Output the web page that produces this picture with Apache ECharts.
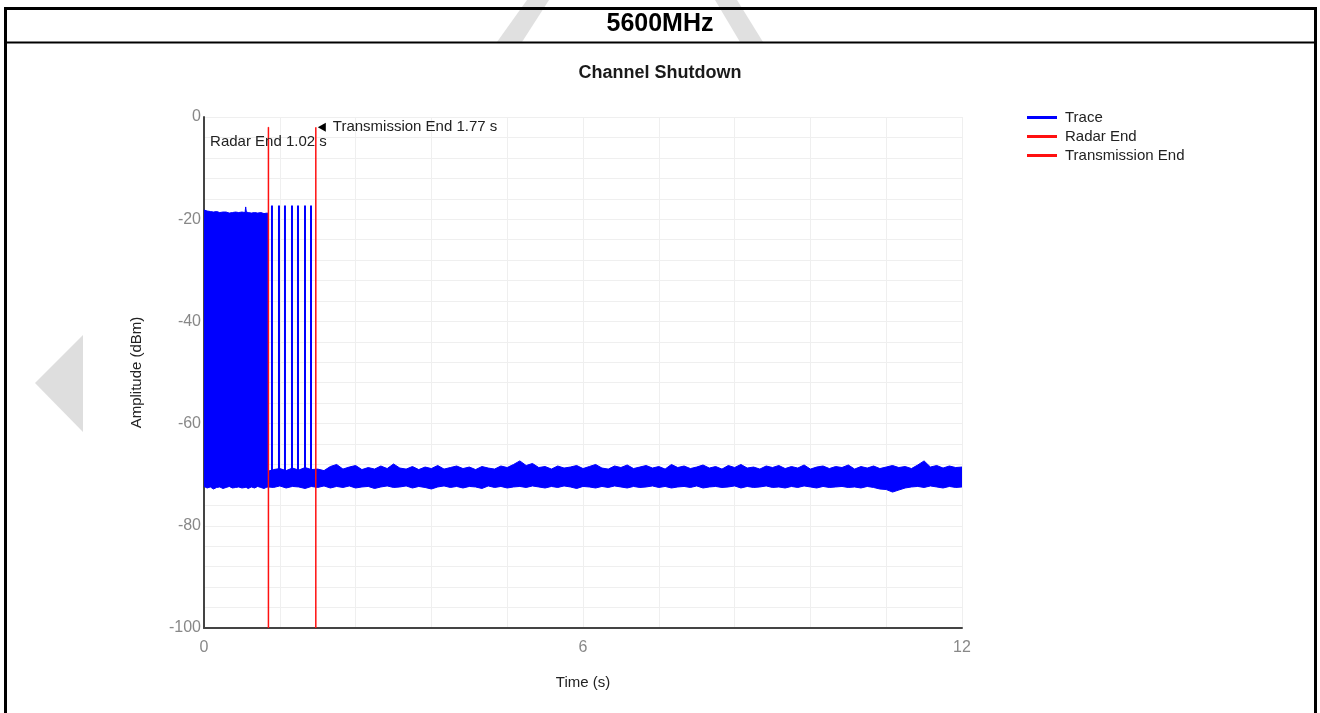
<!DOCTYPE html>
<html>
<head>
<meta charset="utf-8">
<script src="https://cdn.jsdelivr.net/npm/echarts@6/dist/echarts.min.js"></script>
<style>
html,body{margin:0;padding:0;background:#fff;}
#chart{width:1320px;height:713px;}
</style>
</head>
<body>
<div id="chart"></div>
<script>
// ---- data ----
const pageTitle = '5600MHz';
const chartTitle = 'Channel Shutdown';
const xTicks = [0, 6, 12];
const yTicks = [0, -20, -40, -60, -80, -100];

// envelope of the dense trace (time in s, amplitude in dBm)
const bandT = [
  0, 0.05, 0.1, 0.15, 0.2, 0.25, 0.3, 0.35, 0.4, 0.45, 0.5, 0.55, 0.6, 0.65, 0.66, 0.67, 0.7, 0.75, 0.8, 0.85, 0.9, 0.95, 1.0, 1.02,
  1.021,
  1.1, 1.2, 1.3, 1.4, 1.5, 1.6, 1.7, 1.8, 1.9, 2.0,
  2.1, 2.2, 2.3, 2.4, 2.5, 2.6, 2.7, 2.8, 2.9, 3.0,
  3.1, 3.2, 3.3, 3.4, 3.5, 3.6, 3.7, 3.8, 3.9, 4.0,
  4.1, 4.2, 4.3, 4.4, 4.5, 4.6, 4.7, 4.8, 4.9, 5.0,
  5.1, 5.2, 5.3, 5.4, 5.5, 5.6, 5.7, 5.8, 5.9, 6.0,
  6.1, 6.2, 6.3, 6.4, 6.5, 6.6, 6.7, 6.8, 6.9, 7.0,
  7.1, 7.2, 7.3, 7.4, 7.5, 7.6, 7.7, 7.8, 7.9, 8.0,
  8.1, 8.2, 8.3, 8.4, 8.5, 8.6, 8.7, 8.8, 8.9, 9.0,
  9.1, 9.2, 9.3, 9.4, 9.5, 9.6, 9.7, 9.8, 9.9, 10.0,
  10.1, 10.2, 10.3, 10.4, 10.5, 10.6, 10.7, 10.8, 10.9, 11.0,
  11.1, 11.2, 11.3, 11.4, 11.5, 11.6, 11.7, 11.8, 11.9, 12.0
];
const bandUpper = [
  -18.2, -18.4, -18.5, -18.6, -18.5, -18.7, -18.6, -18.6, -18.8, -18.7, -18.6, -18.7, -18.6, -18.7, -17.6, -18.6, -18.7, -18.8, -18.7, -18.8, -18.7, -18.9, -18.8, -18.9,
  -69.3,
  -69.0, -68.8, -69.2, -68.7, -69.1, -68.6, -69.0, -68.9, -69.2, -68.4,
  -68.0, -68.9, -68.5, -68.2, -69.0, -68.6, -68.9, -68.3, -68.8, -67.9,
  -68.7, -68.9, -68.4, -69.0, -68.5, -68.8, -68.2, -68.9, -68.6, -68.3,
  -68.8, -68.5, -69.0, -68.4, -68.7, -68.9, -68.3, -68.6, -68.0, -67.3,
  -68.2, -67.8, -68.6, -68.4, -68.9, -68.3, -68.7, -68.5, -68.2, -68.8,
  -68.4, -68.0, -68.7, -68.9, -68.3, -68.6, -68.1, -68.8, -68.5, -68.2,
  -68.7, -68.4, -68.9, -68.0, -68.6, -68.3, -68.8, -68.5, -68.1, -68.7,
  -68.4, -68.9, -68.2, -68.6, -68.0, -68.7, -68.5, -68.9, -68.3, -68.6,
  -68.2, -68.8, -68.4, -68.7, -68.1, -68.9, -68.5, -68.3, -68.8, -68.4,
  -68.6, -68.1, -68.9, -68.4, -68.7, -68.3, -68.8, -68.5, -68.2, -68.6,
  -68.4, -68.8, -68.1, -67.3, -68.5, -68.2, -68.7, -68.3, -68.6, -68.5
];
const bandLower = [
  -72.3, -72.6, -72.4, -72.8, -72.5, -72.4, -72.7, -72.5, -72.3, -72.6, -72.5, -72.4, -72.6, -72.5, -72.5, -72.5, -72.7, -72.4, -72.6, -72.3, -72.5, -72.7, -72.4, -72.5,
  -72.4,
  -72.5, -72.2, -72.6, -72.3, -72.4, -72.7, -72.3, -72.5, -72.2, -72.6,
  -72.3, -72.5, -72.2, -72.6, -72.4, -72.3, -72.7, -72.4, -72.2, -72.5,
  -72.4, -72.2, -72.6, -72.3, -72.5, -72.8, -72.4, -72.2, -72.5, -72.3,
  -72.6, -72.3, -72.4, -72.7, -72.2, -72.5, -72.3, -72.6, -72.4, -72.3,
  -72.5, -72.2, -72.4, -72.6, -72.3, -72.5, -72.2, -72.4, -72.7, -72.3,
  -72.4, -72.6, -72.3, -72.5, -72.2, -72.4, -72.6, -72.3, -72.5, -72.4,
  -72.2, -72.5, -72.3, -72.6, -72.4, -72.3, -72.5, -72.2, -72.6, -72.4,
  -72.3, -72.5, -72.4, -72.2, -72.6, -72.3, -72.5, -72.4, -72.2, -72.5,
  -72.4, -72.6, -72.3, -72.5, -72.2, -72.4, -72.6, -72.3, -72.5, -72.4,
  -72.3, -72.5, -72.4, -72.6, -72.3, -72.5, -72.8, -72.9, -73.4, -73.0,
  -72.6, -72.4, -72.3, -72.5, -72.2, -72.4, -72.6, -72.3, -72.5, -72.4
];

// burst pulses between Radar End and Transmission End
const pulseT = [1.076, 1.187, 1.282, 1.393, 1.488, 1.599, 1.694];
const pulseTop = [-17.3, -17.3, -17.3, -17.3, -17.3, -17.3, -17.3];
const pulseBase = -70;

// markers
const radarEndT = 1.02;
const transEndT = 1.77;
const markerTop = -2;
const markerBottom = -100;

// ---- build series ----
const bandData = bandT.map((t, i) => [t, bandUpper[i], bandLower[i]]);
const pulseData = [];
pulseT.forEach((t, i) => {
  pulseData.push([t, pulseBase]);
  pulseData.push([t, pulseTop[i]]);
  pulseData.push([t, '-']);
});

const FONT = '"Liberation Sans", Arial, sans-serif';
const BLUE = '#0000ff';
const RED = '#ff1010';

// band polygon: upper envelope left->right then lower envelope right->left,
// every vertex mapped through the chart's own axes with api.coord
function renderBand(params, api) {
  if (params.dataIndex !== 0) return null;
  const pts = [];
  for (let i = 0; i < bandT.length; i++) pts.push(api.coord([bandT[i], bandUpper[i]]));
  for (let i = bandT.length - 1; i >= 0; i--) pts.push(api.coord([bandT[i], bandLower[i]]));
  return {
    type: 'polygon',
    shape: {points: pts},
    style: {fill: BLUE, stroke: BLUE, lineWidth: 1}
  };
}

const chart = echarts.init(document.getElementById('chart'), null, {renderer: 'canvas'});
chart.setOption({
  animation: false,
  backgroundColor: '#ffffff',
  title: [
    {text: pageTitle, left: 'center', top: 12, padding: 0, z: 10,
     textStyle: {fontFamily: FONT, fontSize: 25, fontWeight: 'bold', color: '#000'}},
    {text: chartTitle, left: 'center', top: 64, padding: 0, z: 10,
     textStyle: {fontFamily: FONT, fontSize: 18, fontWeight: 'bold', color: '#1a1a1a'}}
  ],
  graphic: [
    // light grey watermark fragments
    {type: 'polygon', z: 0, silent: true, shape: {points: [[527, 0], [549, 0], [522, 42], [497, 42]]}, style: {fill: '#e0e0e0'}},
    {type: 'polygon', z: 0, silent: true, shape: {points: [[715, 0], [737, 0], [763, 42], [740, 42]]}, style: {fill: '#e0e0e0'}},
    {type: 'polygon', z: 0, silent: true, shape: {points: [[35, 383], [83, 335], [83, 432]]}, style: {fill: '#dedede'}},
    // frame
    {type: 'rect', z: 20, silent: true, shape: {x: 5.5, y: 8.5, width: 1310, height: 740}, style: {fill: null, stroke: '#000', lineWidth: 3}},
    {type: 'line', z: 20, silent: true, shape: {x1: 5, y1: 42.5, x2: 1316, y2: 42.5}, style: {stroke: '#000', lineWidth: 2}}
  ],
  legend: {
    orient: 'vertical',
    left: 1027,
    top: 110,
    itemWidth: 30,
    itemHeight: 3,
    itemGap: 4,
    icon: 'rect',
    selectedMode: false,
    padding: 0,
    textStyle: {fontFamily: FONT, fontSize: 15, color: '#222', padding: [0, 0, 0, 3]},
    data: [
      {name: 'Trace', itemStyle: {color: BLUE}},
      {name: 'Radar End', itemStyle: {color: RED}},
      {name: 'Transmission End', itemStyle: {color: RED}}
    ]
  },
  grid: {left: 204, right: 358, top: 117, bottom: 85, containLabel: false},
  xAxis: {
    type: 'value',
    min: xTicks[0],
    max: xTicks[xTicks.length - 1],
    interval: xTicks[1] - xTicks[0],
    name: 'Time (s)',
    nameLocation: 'middle',
    nameGap: 47,
    nameTextStyle: {fontFamily: FONT, fontSize: 15, color: '#222'},
    axisLine: {show: true, onZero: false, lineStyle: {color: '#444', width: 2}},
    axisTick: {show: false},
    minorTick: {show: false, splitNumber: 5},
    axisLabel: {fontFamily: FONT, fontSize: 16, color: '#888', margin: 12},
    splitLine: {show: true, lineStyle: {color: '#efefef', width: 1}},
    minorSplitLine: {show: true, lineStyle: {color: '#efefef', width: 1}}
  },
  yAxis: {
    type: 'value',
    min: yTicks[yTicks.length - 1],
    max: yTicks[0],
    interval: yTicks[0] - yTicks[1],
    name: 'Amplitude (dBm)',
    nameLocation: 'middle',
    nameGap: 60,
    nameTextStyle: {fontFamily: FONT, fontSize: 15, color: '#222'},
    axisLine: {show: true, onZero: false, lineStyle: {color: '#444', width: 2}},
    axisTick: {show: false},
    minorTick: {show: false, splitNumber: 5},
    axisLabel: {fontFamily: FONT, fontSize: 16, color: '#888', margin: 3},
    splitLine: {show: true, lineStyle: {color: '#efefef', width: 1}},
    minorSplitLine: {show: true, lineStyle: {color: '#efefef', width: 1}}
  },
  series: [
    {
      name: 'Trace', type: 'custom', data: bandData, color: BLUE,
      encode: {x: 0, y: [1, 2]},
      renderItem: renderBand, clip: true, silent: true, z: 2
    },
    {
      name: 'Trace', type: 'line', data: pulseData, color: BLUE,
      symbol: 'none', silent: true, connectNulls: false, z: 3,
      lineStyle: {color: BLUE, width: 2}
    },
    {
      name: 'Radar End', type: 'line', color: RED, z: 4, silent: true,
      lineStyle: {color: RED, width: 1.5},
      symbol: 'none',
      data: [
        {value: [radarEndT, markerBottom]},
        {value: [radarEndT, markerTop], symbol: 'circle', symbolSize: 1,
         itemStyle: {color: RED},
         label: {show: true, position: 'bottom', distance: 7,
                 formatter: 'Radar End ' + radarEndT.toFixed(2) + ' s',
                 fontFamily: FONT, fontSize: 15, color: '#222'}}
      ]
    },
    {
      name: 'Transmission End', type: 'line', color: RED, z: 4, silent: true,
      lineStyle: {color: RED, width: 1.5},
      symbol: 'none',
      data: [
        {value: [transEndT, markerBottom]},
        {value: [transEndT, markerTop], symbol: 'triangle', symbolSize: [9, 8], symbolRotate: 90, symbolOffset: [6, 0],
         itemStyle: {color: '#000'},
         label: {show: true, position: 'right', distance: 7,
                 formatter: 'Transmission End ' + transEndT.toFixed(2) + ' s',
                 fontFamily: FONT, fontSize: 15, color: '#222'}}
      ]
    }
  ]
});
</script>
</body>
</html>
